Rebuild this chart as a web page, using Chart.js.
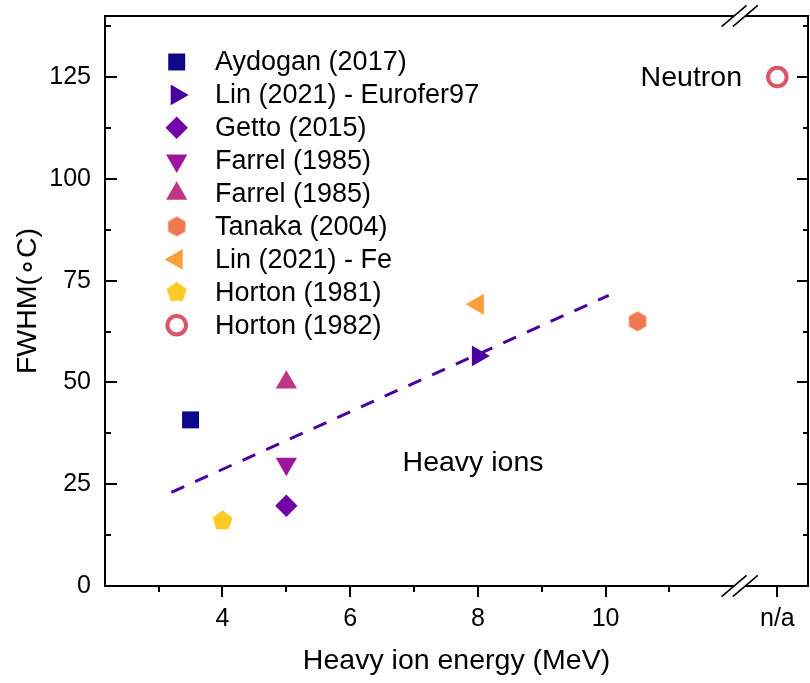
<!DOCTYPE html>
<html>
<head>
<meta charset="utf-8">
<script src="https://cdn.jsdelivr.net/npm/chart.js@4.4.1/dist/chart.umd.min.js"></script>
<style>
  html, body { margin: 0; padding: 0; background: #fff; }
</style>
</head>
<body>
<canvas id="fwhm-chart" width="810" height="683"></canvas>
<script>
// x position of the "n/a" column (neutron data) and of the axis break before it
const NA_X = 12.69;
const BREAK_X = 12.1;

const studies = ['Aydogan (2017)', 'Lin (2021) - Eurofer97', 'Getto (2015)', 'Farrel (1985)',
                 'Farrel (1985)', 'Tanaka (2004)', 'Lin (2021) - Fe', 'Horton (1981)', 'Horton (1982)'];
const energies = [3.5, 8, 5, 5, 5, 10.5, 8, 4, NA_X];
const fwhm = [40.8, 56.5, 19.7, 30, 50, 65, 69.2, 16, 125];

// linear trend through the heavy ion points
const trendEnergy = [3.2, 10.05];
const trendFwhm = [23.0, 71.4];

const xTicks = [4, 6, 8, 10, NA_X];
const yTicks = [0, 25, 50, 75, 100, 125];

const FONT = "'Liberation Sans', Arial, Helvetica, sans-serif";
const colors = ['#0d0887', '#46039f', '#7201a8', '#9c179e', '#bd3786', '#ed7953', '#fb9f3a', '#fdca26', '#d8576b'];

// regular polygon with a vertex on top, used for the hexagon / pentagon markers
function polygonMarker(sides, radius, color) {
    const size = Math.ceil(radius * 2 + 2);
    const c = document.createElement('canvas');
    c.width = size;
    c.height = size;
    const g = c.getContext('2d');
    g.fillStyle = color;
    g.beginPath();
    for (let i = 0; i < sides; i++) {
        const a = -Math.PI / 2 + i * 2 * Math.PI / sides;
        const px = size / 2 + radius * Math.cos(a);
        const py = size / 2 + radius * Math.sin(a);
        if (i === 0) g.moveTo(px, py); else g.lineTo(px, py);
    }
    g.closePath();
    g.fill();
    return c;
}

const markers = [
    { pointStyle: 'rect', radius: 12, rotation: 0 },
    { pointStyle: 'triangle', radius: 12, rotation: 90 },
    { pointStyle: 'rectRot', radius: 11.2, rotation: 0 },
    { pointStyle: 'triangle', radius: 12.3, rotation: 180 },
    { pointStyle: 'triangle', radius: 12.3, rotation: 0 },
    { pointStyle: polygonMarker(6, 10, colors[5]), radius: 10, rotation: 0 },
    { pointStyle: 'triangle', radius: 12, rotation: -90 },
    { pointStyle: polygonMarker(5, 10.5, colors[7]), radius: 10.5, rotation: 0 },
    { pointStyle: 'circle', radius: 9.3, rotation: 0, hollow: true }
];

const datasets = [{
    type: 'line',
    label: 'fit',
    data: trendEnergy.map((e, i) => ({ x: e, y: trendFwhm[i] })),
    borderColor: '#4a03a0',
    borderWidth: 3,
    borderDash: [14, 12],
    pointRadius: 0,
    fill: false
}];

studies.forEach((name, i) => {
    const m = markers[i];
    datasets.push({
        label: name,
        data: [{ x: energies[i], y: fwhm[i] }],
        pointStyle: m.pointStyle,
        pointRadius: m.radius,
        pointRotation: m.rotation,
        backgroundColor: m.hollow ? '#ffffff' : colors[i],
        borderColor: colors[i],
        pointBorderWidth: m.hollow ? 4 : 0
    });
});

// tick labels must not push the plot area inwards
function noLabelPadding(s) {
    s.paddingTop = 0;
    s.paddingBottom = 0;
    s.paddingLeft = 0;
    s.paddingRight = 0;
}

const frame = {
    id: 'frame',
    afterDraw(chart) {
        const { ctx, chartArea: a, scales: { x, y } } = chart;
        ctx.save();
        ctx.strokeStyle = '#000';
        ctx.lineWidth = 2;
        ctx.beginPath();
        ctx.rect(a.left, a.top, a.right - a.left, a.bottom - a.top);
        ctx.stroke();

        // y ticks point inwards on both sides
        ctx.beginPath();
        for (let v = 12.5; v <= 140; v += 12.5) {
            const py = Math.round(y.getPixelForValue(v));
            const len = v % 25 === 0 ? 12 : 6;
            ctx.moveTo(a.left, py); ctx.lineTo(a.left + len, py);
            ctx.moveTo(a.right, py); ctx.lineTo(a.right - len + 1, py);
        }
        // x ticks point outwards
        for (let v = 3; v <= 11; v++) {
            const px = Math.round(x.getPixelForValue(v));
            const len = v % 2 === 0 ? 11 : 6;
            ctx.moveTo(px, a.bottom); ctx.lineTo(px, a.bottom + len);
        }
        const nx = Math.round(x.getPixelForValue(NA_X));
        ctx.moveTo(nx, a.bottom); ctx.lineTo(nx, a.bottom + 11);
        ctx.stroke();

        // axis break marks
        const bx = x.getPixelForValue(BREAK_X);
        [a.top, a.bottom].forEach(yy => {
            ctx.fillStyle = '#fff';
            ctx.beginPath();
            ctx.moveTo(bx - 5.6 - 12.5, yy + 10.7);
            ctx.lineTo(bx - 5.6 + 12.5, yy - 10.7);
            ctx.lineTo(bx + 5.6 + 12.5, yy - 10.7);
            ctx.lineTo(bx + 5.6 - 12.5, yy + 10.7);
            ctx.closePath();
            ctx.fill();
            ctx.lineWidth = 1.6;
            ctx.beginPath();
            [-5.6, 5.6].forEach(d => {
                ctx.moveTo(bx + d - 12.5, yy + 10.7);
                ctx.lineTo(bx + d + 12.5, yy - 10.7);
            });
            ctx.stroke();
        });

        // annotations
        ctx.fillStyle = '#000';
        ctx.font = '28.5px ' + FONT;
        ctx.textBaseline = 'middle';
        ctx.textAlign = 'right';
        ctx.fillText('Neutron', nx - 35, y.getPixelForValue(125) + 1);
        ctx.textAlign = 'left';
        ctx.fillText('Heavy ions', x.getPixelForValue(6.82), y.getPixelForValue(30.2));

        // legend
        ctx.font = '27px ' + FONT;
        chart.data.datasets.slice(1).forEach((ds, i) => {
            const ly = 62 + i * 32.9;
            ctx.fillStyle = ds.backgroundColor;
            ctx.strokeStyle = ds.borderColor;
            ctx.lineWidth = ds.pointBorderWidth;
            Chart.helpers.drawPoint(ctx, {
                pointStyle: ds.pointStyle,
                rotation: ds.pointRotation,
                radius: ds.pointRadius,
                borderWidth: ds.pointBorderWidth
            }, 176.7, ly);
            ctx.fillStyle = '#000';
            ctx.fillText(ds.label, 215, ly + 1);
        });
        ctx.restore();
    }
};

new Chart(document.getElementById('fwhm-chart').getContext('2d'), {
    type: 'scatter',
    data: { datasets },
    options: {
        responsive: false,
        animation: false,
        layout: { autoPadding: false, padding: { left: 0, right: 2, top: 16, bottom: 0 } },
        plugins: { legend: { display: false }, tooltip: { enabled: false } },
        scales: {
            x: {
                type: 'linear',
                min: 2.16,
                max: 13.17,
                afterBuildTicks: s => { s.ticks = xTicks.map(v => ({ value: v })); },
                afterFit: s => { s.height = 97; noLabelPadding(s); },
                grid: { display: false, drawTicks: false },
                border: { display: false },
                ticks: {
                    autoSkip: false,
                    maxRotation: 0,
                    padding: 18,
                    color: '#000',
                    font: { family: FONT, size: 25 },
                    callback: v => v === NA_X ? 'n/a' : String(v)
                },
                title: {
                    display: true,
                    text: 'Heavy ion energy (MeV)',
                    color: '#000',
                    font: { family: FONT, size: 28.5, lineHeight: 1.2 },
                    padding: { top: 0, bottom: 5 }
                }
            },
            y: {
                min: 0,
                max: 140,
                afterBuildTicks: s => { s.ticks = yTicks.map(v => ({ value: v })); },
                afterFit: s => { s.width = 105; noLabelPadding(s); },
                grid: { display: false, drawTicks: false },
                border: { display: false },
                ticks: {
                    padding: 14,
                    color: '#000',
                    font: { family: FONT, size: 25 }
                },
                title: {
                    display: true,
                    text: 'FWHM(\u2218C)',
                    color: '#000',
                    font: { family: FONT, size: 28.5, lineHeight: 1.2 },
                    padding: { top: 11, bottom: 0 }
                }
            }
        }
    },
    plugins: [frame]
});
</script>
</body>
</html>
